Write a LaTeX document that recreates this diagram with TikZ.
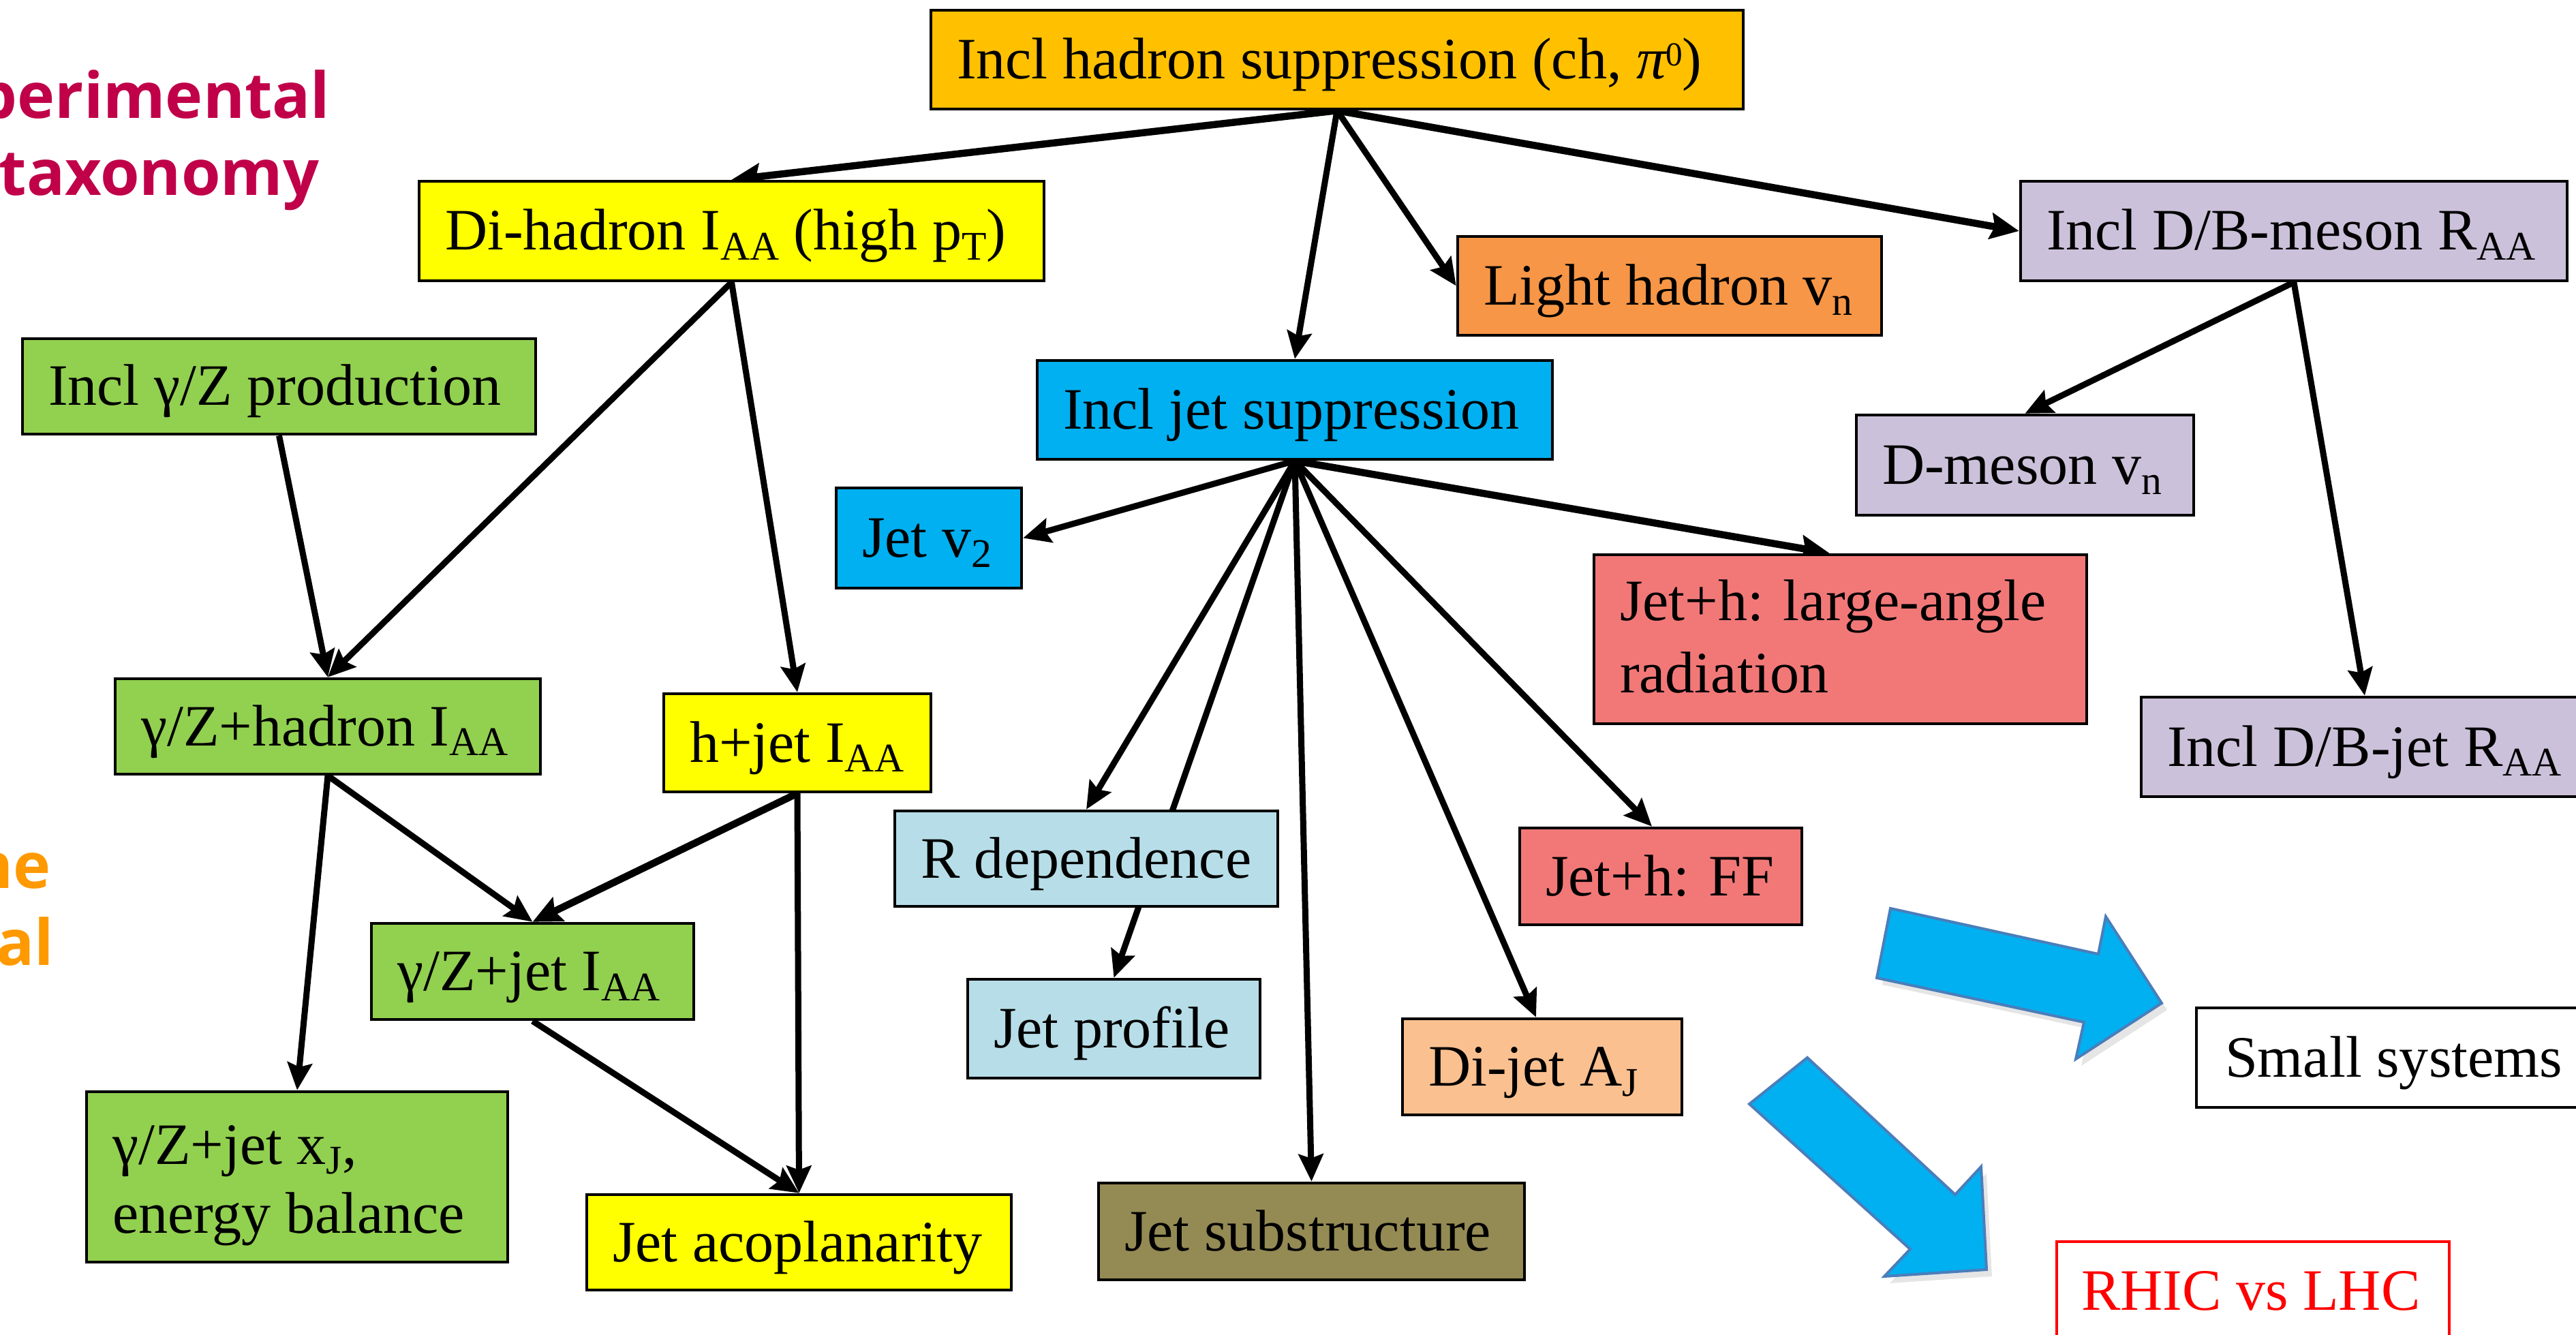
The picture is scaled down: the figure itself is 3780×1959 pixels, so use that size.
\documentclass[tikz,border=0pt]{standalone}
\usepackage{fontspec}
\setmainfont{Liberation Serif}
\newfontfamily\osans{Open Sans}
\usetikzlibrary{arrows.meta,backgrounds}
\definecolor{cGold}{HTML}{FFC000}
\definecolor{cYel}{HTML}{FFFF00}
\definecolor{cOrg}{HTML}{F79646}
\definecolor{cLav}{HTML}{CCC1DA}
\definecolor{cGrn}{HTML}{92D050}
\definecolor{cCyan}{HTML}{00B0F0}
\definecolor{cSal}{HTML}{F27878}
\definecolor{cLblue}{HTML}{B7DEE8}
\definecolor{cPeach}{HTML}{FAC090}
\definecolor{cOlive}{HTML}{948A54}
\definecolor{cCrim}{HTML}{C00048}
\definecolor{cOrTxt}{HTML}{FF9900}
\definecolor{cArrEdge}{HTML}{4A7EBB}
\newcommand\dn[1]{\raisebox{-0.17em}{\fontsize{17}{17}\selectfont #1}}
\newcommand\upx[1]{\raisebox{0.22em}{\fontsize{14}{14}\selectfont #1}}
\newcommand\lbl[2]{\makebox[#1][l]{#2}}
\tikzset{
  bx/.style={draw=black, line width=0.45mm, inner xsep=3.8mm, inner ysep=0pt,
    font=\fontsize{24.5}{30.1}\selectfont, text height=6.6mm, text depth=1mm, anchor=center},
  arr/.style={line width=0.9mm, -{Stealth[length=4mm,width=3.6mm,inset=0.6mm]}},
  arrb/.style={line width=1.05mm, -{Stealth[length=4.2mm,width=3.8mm,inset=0.6mm]}},
  ttl/.style={font=\osans\bfseries\fontsize{26.5}{30}\selectfont, inner sep=0pt},
  bigarr/.style={fill=cCyan, draw=cArrEdge, line width=0.4mm, line join=miter}
}
\begin{document}
\begin{tikzpicture}[x=0.1mm,y=-0.1mm]
\useasboundingbox (0,0) rectangle (3780,1959);
\clip (0,0) rectangle (3780,1959);

% side titles
\node[ttl, text=cCrim, anchor=base east] (t1) at (485,174) {perimental};
\node[ttl, text=cCrim, anchor=base east] (t2) at (469,287) {taxonomy};
\node[ttl, text=cOrTxt, anchor=base east] (t3) at (75,1303) {ne};
\node[ttl, text=cOrTxt, anchor=base east] (t4) at (80,1416) {al};

% boxes
\node[bx, fill=cGold, minimum height=14.5mm] (top) at (1962,87.5) {\lbl{111.6mm}{Incl hadron suppression (ch, {\itshape π}\upx{0})}};
\node[bx, fill=cYel, minimum height=14.6mm] (dihad) at (1073.5,339) {\lbl{84.1mm}{Di-hadron I\dn{AA} (high p\dn{T})}};
\node[bx, fill=cOrg, minimum height=14.5mm] (light) at (2450,419.5) {\lbl{54.6mm}{Light hadron v\dn{n}}};
\node[bx, fill=cLav, minimum height=14.6mm] (dbmeson) at (3366,339) {\lbl{72.6mm}{Incl D/B-meson R\dn{AA}}};
\node[bx, fill=cGrn, minimum height=14.0mm] (gzprod) at (409.5,567) {\lbl{67.7mm}{Incl γ/Z production}};
\node[bx, fill=cCyan, minimum height=14.5mm] (jetsupp) at (1900,601.5) {\lbl{68.0mm}{Incl jet suppression}};
\node[bx, fill=cLav, minimum height=14.7mm] (dmeson) at (2971.5,682.5) {\lbl{41.9mm}{D-meson v\dn{n}}};
\node[bx, fill=cCyan, minimum height=14.7mm] (jetv2) at (1363,789.5) {\lbl{19.6mm}{Jet v\dn{2}}};
\node[bx, fill=cSal, minimum height=24.8mm, text height=6.2mm, text depth=11.6mm] (large) at (2700.5,938)
  {\parbox[t]{64.7mm}{\fontsize{24.5}{30.1}\selectfont Jet+h: large-angle\\radiation}};
\node[bx, fill=cLav, minimum height=14.6mm] (dbjet) at (3470,1096) {\lbl{58.0mm}{Incl D/B-jet R\dn{AA}}};
\node[bx, fill=cGrn, minimum height=14.0mm] (gzhad) at (481,1066) {\lbl{54.8mm}{γ/Z+hadron I\dn{AA}}};
\node[bx, fill=cYel, minimum height=14.4mm] (hjet) at (1170,1090) {\lbl{31.6mm}{h+jet I\dn{AA}}};
\node[bx, fill=cSal, minimum height=14.2mm] (ff) at (2437,1286) {\lbl{33.8mm}{Jet+h: FF}};
\node[bx, fill=cGrn, minimum height=14.1mm] (gzjet) at (781.5,1425.5) {\lbl{39.7mm}{γ/Z+jet I\dn{AA}}};
\node[bx, fill=cLblue, minimum height=14.5mm] (jetprof) at (1634.5,1509.5) {\lbl{35.3mm}{Jet profile}};
\node[bx, fill=cLblue, minimum height=14.0mm] (rdep) at (1594,1260) {\lbl{48.6mm}{R dependence}};
\node[bx, fill=cPeach, minimum height=14.1mm] (dijet) at (2263,1565.5) {\lbl{33.4mm}{Di-jet A\dn{J}}};
\node[bx, fill=white, minimum height=14.6mm] (small) at (3526.5,1552) {\lbl{53.1mm}{\hspace{0.4mm}Small  systems}};
\node[bx, fill=cGrn, minimum height=25.0mm, text height=7.4mm, text depth=11.2mm] (gzxj) at (436,1727)
  {\parbox[t]{54.2mm}{\fontsize{24.5}{29}\selectfont γ/Z+jet x\dn{J},\\energy balance}};
\node[bx, fill=cYel, minimum height=14.0mm] (acop) at (1172.5,1823) {\lbl{54.7mm}{Jet acoplanarity}};
\node[bx, fill=cOlive, minimum height=14.2mm] (substr) at (1924.5,1807) {\lbl{54.9mm}{Jet substructure}};
\node[bx, draw=red, text=red, fill=white, minimum height=14.4mm, inner xsep=3.6mm] (rhic) at (3306,1894) {\lbl{50.4mm}{RHIC vs LHC}};

% connectors
\begin{scope}[on background layer]
\draw[arrb] (top.south) -- (dihad.north);
\draw[arr] (top.south) -- (jetsupp.north);
\draw[arr] (top.south) -- (light.west);
\draw[arrb] (top.south) -- (dbmeson.west);
\draw[arr] (dihad.south) -- (gzhad.north);
\draw[arr] (dihad.south) -- (hjet.north);
\draw[arr] (gzprod.south) -- (gzhad.north);
\draw[arr] (gzhad.south) -- (gzxj.north);
\draw[arr] (gzhad.south) -- (gzjet.north);
\draw[arrb] (hjet.south) -- (gzjet.north);
\draw[arr] (hjet.south) -- (acop.north);
\draw[arr] (gzjet.south) -- (acop.north);
\draw[arr] (jetsupp.south) -- (jetv2.east);
\draw[arrb] (jetsupp.south) -- ([xshift=-1.6mm]large.north);
\draw[arr] (jetsupp.south) -- (rdep.north);
\draw[arr] (jetsupp.south) -- (jetprof.north);
\draw[arr] (jetsupp.south) -- (substr.north);
\draw[arr] (jetsupp.south) -- ([xshift=-0.9mm]dijet.north);
\draw[arr] (jetsupp.south) -- ([xshift=-1.3mm]ff.north);
\draw[arr] (dbmeson.south) -- (dmeson.north);
\draw[arr] (dbmeson.south) -- (dbjet.north);
\end{scope}

% big blue arrows
\fill[gray!40, opacity=0.5] ([shift={(8,10)}]2774,1333) -- ++(305,67) -- ++(11,-55) -- ++(82,127) -- ++(-126,82) -- ++(12,-54) -- ++(-304,-65) -- cycle;
\draw[bigarr] (2774,1333) -- (3079,1400) -- (3090,1345) -- (3172,1472) -- (3046,1554) -- (3058,1500) -- (2754,1435) -- cycle;
\fill[gray!40, opacity=0.5] ([shift={(8,10)}]2652,1552) -- ++(217,201) -- ++(38,-41) -- ++(8,151) -- ++(-150,10) -- ++(38,-40) -- ++(-236,-213) -- cycle;
\draw[bigarr] (2652,1552) -- (2869,1753) -- (2907,1712) -- (2915,1863) -- (2765,1873) -- (2803,1833) -- (2567,1620) -- cycle;
\end{tikzpicture}
\end{document}
